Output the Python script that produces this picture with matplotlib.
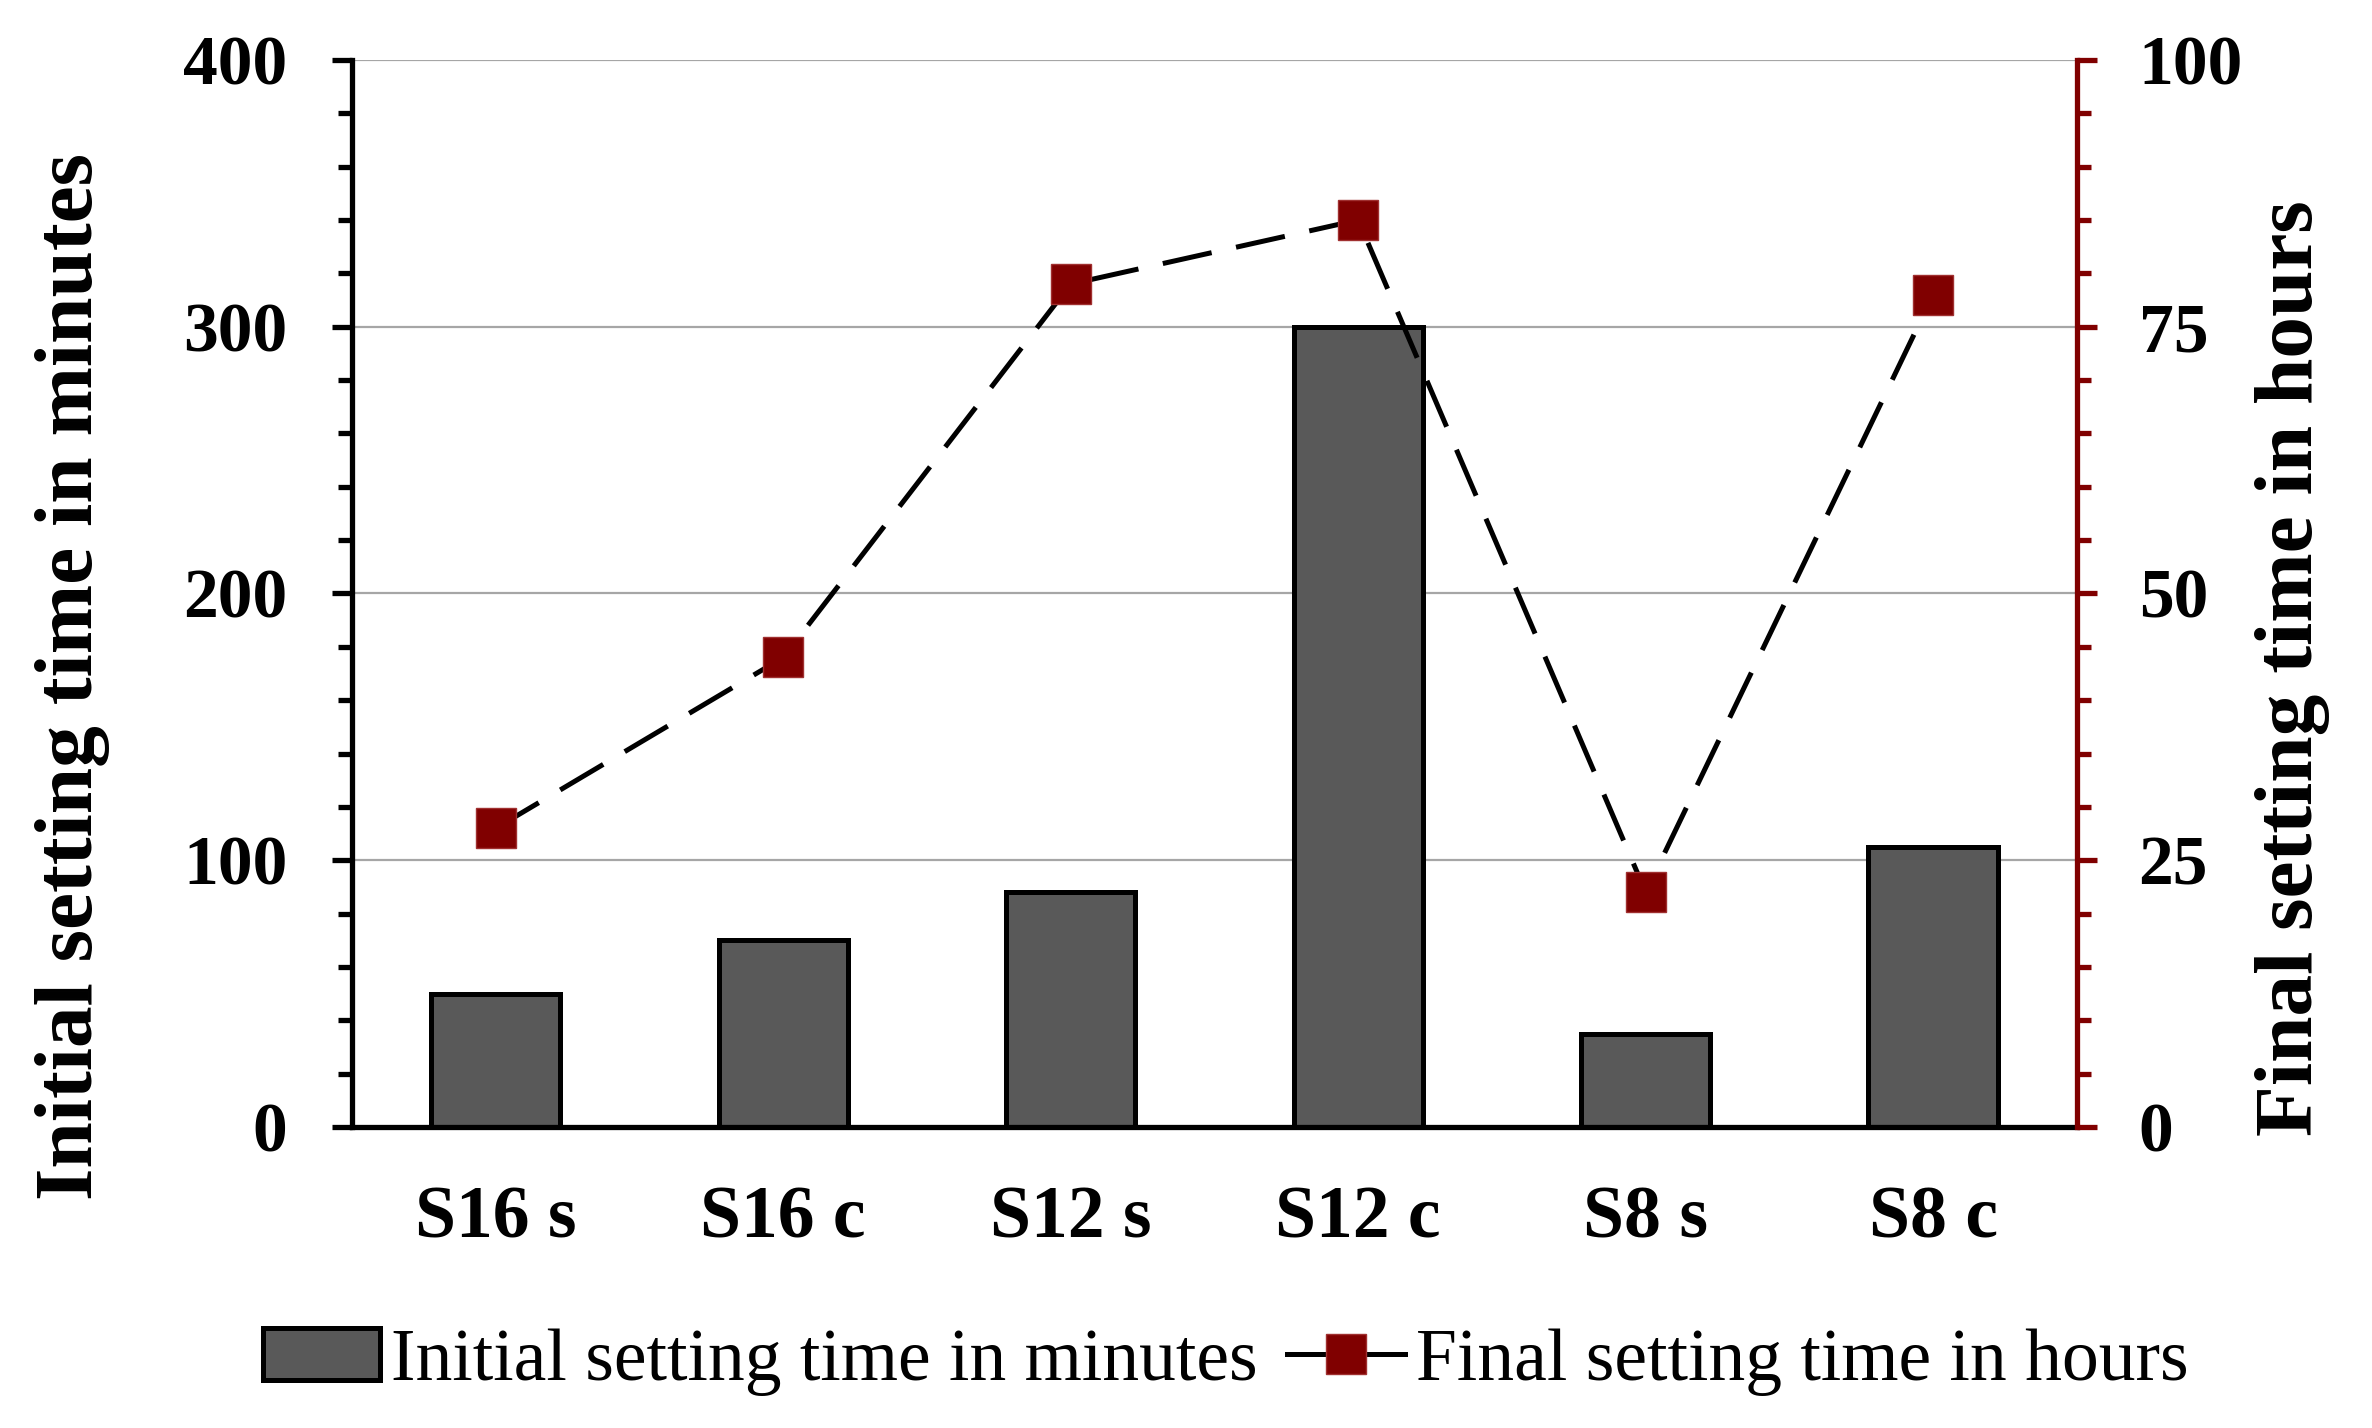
import matplotlib
matplotlib.use("Agg")
import matplotlib.pyplot as plt
from matplotlib.ticker import MultipleLocator
from matplotlib.patches import Patch
from matplotlib.lines import Line2D

# data
samples = ["S16 s", "S16 c", "S12 s", "S12 c", "S8 s", "S8 c"]
initial_minutes = [50, 70, 88, 300, 35, 105]
final_hours = [28, 44, 79, 85, 22, 78]

BAR_COLOR = "#595959"
DARK_RED = "#800000"
AX_LW = 3.8

plt.rcParams["font.family"] = ["Liberation Serif", "DejaVu Serif"]

fig = plt.figure(figsize=(23.72, 14.28), dpi=100)
ax = fig.add_axes([0.1484, 0.2108, 0.7272, 0.7472])

x = list(range(len(samples)))
ax.bar(x, initial_minutes, width=0.45, color=BAR_COLOR, edgecolor="black",
       linewidth=3.6, zorder=2)
ax.set_xlim(-0.5, len(samples) - 0.5)
ax.set_ylim(0, 400)
ax.yaxis.set_major_locator(MultipleLocator(100))
ax.yaxis.set_minor_locator(MultipleLocator(20))
ax.grid(axis="y", which="major", color="#a6a6a6", linewidth=1.6, zorder=0)
ax.set_axisbelow(True)

ax.set_xticks(x)
ax.set_xticklabels(samples, fontsize=53, fontweight="bold")
ax.tick_params(axis="x", length=0, pad=42)
ax.tick_params(axis="y", which="major", length=14.4, width=AX_LW, pad=32,
               labelsize=50)
ax.tick_params(axis="y", which="minor", length=10, width=AX_LW)
for lab in ax.get_yticklabels():
    lab.set_fontweight("bold")

for s in ["top", "right"]:
    ax.spines[s].set_visible(False)
for s in ["left", "bottom"]:
    ax.spines[s].set_linewidth(AX_LW)
    ax.spines[s].set_color("black")

ax2 = ax.twinx()
ax2.plot(x, final_hours, color="black", linewidth=3.6, dashes=(10, 5),
         marker="s", markersize=29, markerfacecolor=DARK_RED,
         markeredgecolor="#a03030", markeredgewidth=1, zorder=3)
ax2.set_ylim(0, 100)
ax2.yaxis.set_major_locator(MultipleLocator(25))
ax2.yaxis.set_minor_locator(MultipleLocator(5))
ax2.tick_params(axis="y", which="major", length=14.4, width=AX_LW, pad=30,
                labelsize=50, color=DARK_RED, labelcolor="black")
ax2.tick_params(axis="y", which="minor", length=10, width=AX_LW, color=DARK_RED)
for lab in ax2.get_yticklabels():
    lab.set_fontweight("bold")
for s in ["top", "left", "bottom"]:
    ax2.spines[s].set_visible(False)
ax2.spines["right"].set_color(DARK_RED)
ax2.spines["right"].set_linewidth(AX_LW)

fig.text(73 / 2372, 1 - 677 / 1428, "Initial setting time in minutes",
         rotation=90, ha="center", va="center", fontsize=60, fontweight="bold")
fig.text(2292 / 2372, 1 - 668 / 1428, "Final setting time in hours",
         rotation=90, ha="center", va="center", fontsize=60, fontweight="bold")

handles = [
    Patch(facecolor=BAR_COLOR, edgecolor="black", linewidth=3.6),
    Line2D([], [], color="black", linewidth=3.6, marker="s", markersize=29,
           markerfacecolor=DARK_RED, markeredgecolor="#a03030",
           markeredgewidth=1),
]
fig.legend(handles, ["Initial setting time in minutes",
                     "Final setting time in hours"],
           loc="center", bbox_to_anchor=(0.5166, 1 - 1362 / 1428), ncol=2,
           frameon=False, prop={"size": 53}, handlelength=1.6,
           handletextpad=0.14, columnspacing=0.41, borderpad=0)

fig.savefig("out.png", dpi=100)
